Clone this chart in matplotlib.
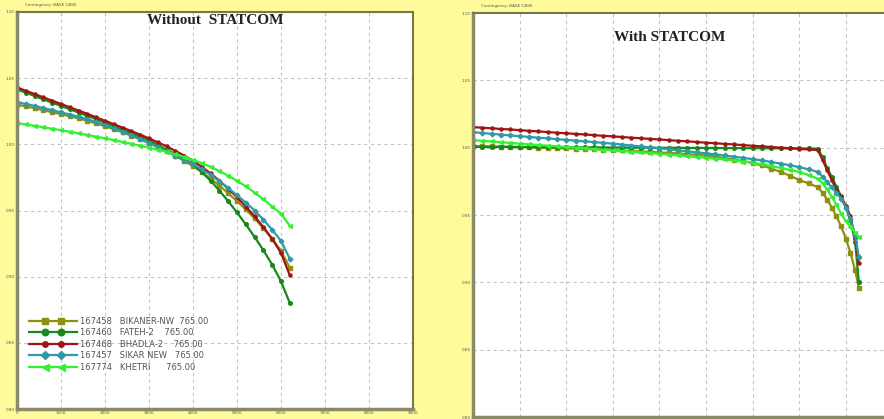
import matplotlib
matplotlib.use("Agg")
import matplotlib.pyplot as plt
from matplotlib.legend_handler import HandlerLine2D
import numpy as np

# ---- data: bus voltage (pu) vs transfer (MW) ----
# left panel, without STATCOM
x_wo = [0, 200, 400, 600, 800, 1000, 1200, 1400, 1600, 1800, 2000, 2200, 2400, 2600, 2800, 3000,
        3200, 3400, 3600, 3800, 4000, 4200, 4400, 4600, 4800, 5000, 5200, 5400, 5600, 5800, 6000, 6200]
bikaner_wo = [1.0300, 1.0287, 1.0273, 1.0258, 1.0243, 1.0228, 1.0212, 1.0196, 1.0178, 1.0158, 1.0137,
              1.0114, 1.0090, 1.0065, 1.0038, 1.0010, 0.9980, 0.9948, 0.9913, 0.9875, 0.9835, 0.9790,
              0.9740, 0.9688, 0.9630, 0.9570, 0.9508, 0.9440, 0.9365, 0.9285, 0.9195, 0.9067]
fateh_wo = [1.0415, 1.0390, 1.0365, 1.0340, 1.0315, 1.0290, 1.0265, 1.0240, 1.0215, 1.0190, 1.0163,
            1.0137, 1.0110, 1.0083, 1.0057, 1.0030, 0.9995, 0.9960, 0.9925, 0.9890, 0.9850, 0.9790,
            0.9725, 0.9650, 0.9570, 0.9485, 0.9395, 0.9300, 0.9200, 0.9090, 0.8965, 0.8800]
bhadla_wo = [1.0430, 1.0405, 1.0380, 1.0355, 1.0330, 1.0305, 1.0280, 1.0255, 1.0230, 1.0204, 1.0178,
             1.0152, 1.0126, 1.0100, 1.0073, 1.0045, 1.0015, 0.9985, 0.9950, 0.9915, 0.9875, 0.9830,
             0.9780, 0.9725, 0.9665, 0.9600, 0.9530, 0.9455, 0.9375, 0.9285, 0.9180, 0.9010]
sikar_wo = [1.0320, 1.0305, 1.0290, 1.0274, 1.0258, 1.0242, 1.0225, 1.0208, 1.0190, 1.0168, 1.0145,
            1.0120, 1.0095, 1.0068, 1.0040, 1.0010, 0.9980, 0.9948, 0.9915, 0.9880, 0.9850, 0.9810,
            0.9770, 0.9720, 0.9670, 0.9615, 0.9560, 0.9500, 0.9430, 0.9355, 0.9270, 0.9135]
khetri_wo = [1.0160, 1.0150, 1.0140, 1.0129, 1.0118, 1.0107, 1.0095, 1.0083, 1.0071, 1.0058, 1.0045,
             1.0032, 1.0018, 1.0004, 0.9990, 0.9975, 0.9960, 0.9943, 0.9925, 0.9905, 0.9882, 0.9857,
             0.9830, 0.9798, 0.9763, 0.9725, 0.9683, 0.9635, 0.9585, 0.9530, 0.9475, 0.9385]

# right panel, with STATCOM
x_w = [0, 200, 400, 600, 800, 1000, 1200, 1400, 1600, 1800, 2000, 2200, 2400, 2600, 2800, 3000,
       3200, 3400, 3600, 3800, 4000, 4200, 4400, 4600, 4800, 5000, 5200, 5400, 5600, 5800, 6000,
       6200, 6400, 6600, 6800, 7000, 7200, 7400, 7500, 7600, 7700, 7800, 7900, 8000, 8100, 8200, 8280]
bikaner_w = [1.0012, 1.0011, 1.0009, 1.0008, 1.0006, 1.0005, 1.0003, 1.0001, 0.9999, 0.9997, 0.9995,
             0.9993, 0.9990, 0.9988, 0.9985, 0.9982, 0.9979, 0.9976, 0.9972, 0.9969, 0.9965, 0.9961,
             0.9957, 0.9952, 0.9947, 0.9942, 0.9933, 0.9923, 0.9912, 0.9900, 0.9886, 0.9868, 0.9845,
             0.9820, 0.9792, 0.9760, 0.9735, 0.9707, 0.9665, 0.9615, 0.9555, 0.9490, 0.9415, 0.9325,
             0.9220, 0.9090, 0.8957]
fateh_w = [1.0006, 1.0006, 1.0005, 1.0005, 1.0005, 1.0004, 1.0004, 1.0004, 1.0003, 1.0003, 1.0003,
           1.0002, 1.0002, 1.0002, 1.0001, 1.0001, 1.0001, 1.0000, 1.0000, 1.0000, 0.9999, 0.9999,
           0.9999, 0.9998, 0.9998, 0.9998, 0.9997, 0.9997, 0.9997, 0.9996, 0.9996, 0.9996, 0.9995,
           0.9995, 0.9995, 0.9994, 0.9994, 0.9993, 0.9930, 0.9850, 0.9780, 0.9710, 0.9640, 0.9560,
           0.9460, 0.9300, 0.9000]
bhadla_w = [1.0153, 1.0148, 1.0144, 1.0139, 1.0135, 1.0130, 1.0125, 1.0121, 1.0116, 1.0111, 1.0107,
            1.0102, 1.0098, 1.0093, 1.0088, 1.0084, 1.0079, 1.0074, 1.0070, 1.0065, 1.0061, 1.0056,
            1.0051, 1.0047, 1.0042, 1.0037, 1.0033, 1.0028, 1.0024, 1.0019, 1.0014, 1.0010, 1.0005,
            1.0000, 0.9996, 0.9991, 0.9987, 0.9982, 0.9910, 0.9833, 0.9760, 0.9688, 0.9630, 0.9570,
            0.9490, 0.9330, 0.9140]
sikar_w = [1.0115, 1.0109, 1.0103, 1.0097, 1.0091, 1.0085, 1.0080, 1.0074, 1.0069, 1.0063, 1.0058,
           1.0052, 1.0047, 1.0041, 1.0036, 1.0030, 1.0023, 1.0016, 1.0009, 1.0002, 0.9995, 0.9988,
           0.9980, 0.9973, 0.9965, 0.9958, 0.9950, 0.9942, 0.9933, 0.9924, 0.9915, 0.9905, 0.9894,
           0.9882, 0.9869, 0.9856, 0.9839, 0.9820, 0.9785, 0.9745, 0.9705, 0.9665, 0.9620, 0.9555,
           0.9470, 0.9350, 0.9187]
khetri_w = [1.0056, 1.0051, 1.0046, 1.0041, 1.0035, 1.0030, 1.0025, 1.0020, 1.0015, 1.0010, 1.0005,
            1.0000, 0.9995, 0.9990, 0.9985, 0.9980, 0.9975, 0.9970, 0.9965, 0.9960, 0.9955, 0.9949,
            0.9943, 0.9937, 0.9931, 0.9925, 0.9919, 0.9913, 0.9905, 0.9897, 0.9888, 0.9877, 0.9864,
            0.9850, 0.9835, 0.9820, 0.9797, 0.9770, 0.9735, 0.9690, 0.9635, 0.9575, 0.9510, 0.9455,
            0.9410, 0.9370, 0.9336]

labels = ['167458   BIKANER-NW  765.00', '167460   FATEH-2    765.00', '167468   BHADLA-2    765.00',
          '167457   SIKAR NEW   765.00', '167774   KHETRI      765.00']
colors = ['#8f8f10', '#15891a', '#a01414', '#2f9aa8', '#33f033']
markers = ['s', 'o', 'o', 'D', '<']
msizes = [2.6, 2.6, 2.2, 2.4, 2.8]

x_ticks = [0, 1000, 2000, 3000, 4000, 5000, 6000, 7000, 8000, 9000]
y_ticks = [0.80, 0.85, 0.90, 0.95, 1.00, 1.05, 1.10]

bg = '#fffb9a'
W, H = 884, 419
fig = plt.figure(figsize=(W / 100, H / 100), dpi=100, facecolor=bg)

ax1 = fig.add_axes([17 / W, (H - 409) / H, 396 / W, 397 / H])
ax2 = fig.add_axes([473 / W, (H - 417) / H, 419.4 / W, 404 / H])

def style(ax):
    ax.set_facecolor('white')
    ax.set_xlim(0, 9000)
    ax.set_ylim(0.80, 1.10)
    ax.set_xticks(x_ticks)
    ax.set_yticks(y_ticks)
    ax.set_xticklabels([str(t) for t in x_ticks])
    ax.set_yticklabels(['%.2f' % t for t in y_ticks])
    ax.tick_params(length=0, labelsize=3, pad=1.5, colors='#555555')
    ax.grid(True, color='#c4c4c4', linestyle=(0, (3, 3)), linewidth=0.8)
    ax.set_axisbelow(True)
    for s in ['top', 'right']:
        ax.spines[s].set_color('#77774a')
        ax.spines[s].set_linewidth(1.5)
    for s in ['left', 'bottom']:
        ax.spines[s].set_color('#8a8a68')
        ax.spines[s].set_linewidth(2.5)
    ax.text(0.02, 1.012, 'Contingency: BASE CASE', transform=ax.transAxes,
            fontsize=3, color='#555555', va='bottom')

style(ax1)
style(ax2)

series_wo = [bikaner_wo, fateh_wo, bhadla_wo, sikar_wo, khetri_wo]
series_w = [bikaner_w, fateh_w, bhadla_w, sikar_w, khetri_w]
for i in range(5):
    ax1.plot(x_wo, series_wo[i], color=colors[i], marker=markers[i], markersize=msizes[i],
             linewidth=1.6, label=labels[i])
    ax2.plot(x_w, series_w[i], color=colors[i], marker=markers[i], markersize=msizes[i],
             linewidth=1.6)

ax1.text(0.50, 0.995, 'Without  STATCOM', transform=ax1.transAxes, ha='center', va='top',
         fontsize=11, fontweight='bold', family='Liberation Serif', color='#222222')
ax2.text(0.47, 0.955, 'With STATCOM', transform=ax2.transAxes, ha='center', va='top',
         fontsize=11, fontweight='bold', family='Liberation Serif', color='#222222')

# legend: line across the handle, two markers in the middle
def inner_marks(handle, orig):
    handle.update_from(orig)
    handle.set_markevery([1, 2])

hmap = {}
for line in ax1.get_lines():
    hmap[line] = HandlerLine2D(numpoints=4, marker_pad=0, update_func=inner_marks)

leg = ax1.legend(loc='upper left', bbox_to_anchor=(0.02, 0.243), frameon=False, fontsize=6,
                 handlelength=5.8, handletextpad=0.35, labelspacing=0.3,
                 markerscale=1.8, borderpad=0, handler_map=hmap)
for t in leg.get_texts():
    t.set_color('#555555')

fig.savefig('out.png', dpi=100, facecolor=bg)
